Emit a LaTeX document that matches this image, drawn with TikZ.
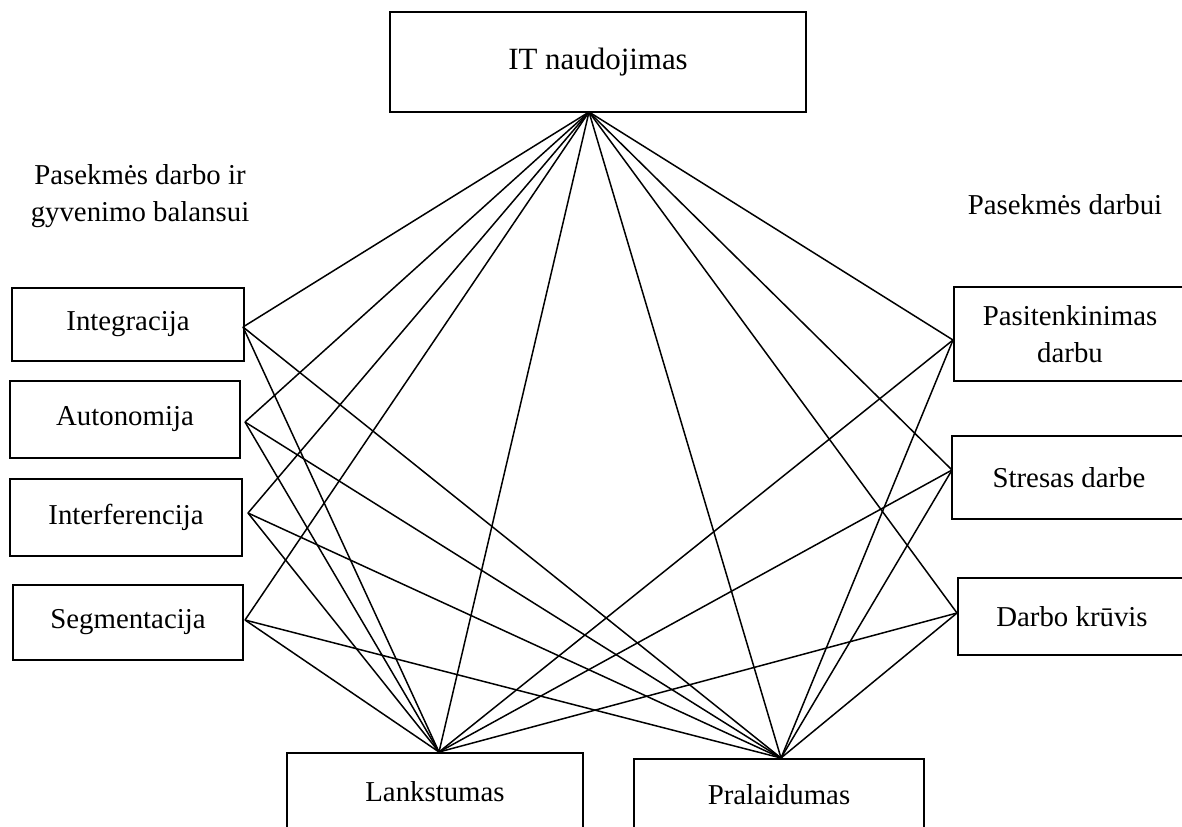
\documentclass[tikz,border=0pt]{standalone}
\usepackage{fontspec}
\setmainfont{Liberation Serif}
\begin{document}
\begin{tikzpicture}[x=0.02cm,y=-0.02cm,
  box/.style={draw=black,line width=1.1pt,rectangle,inner sep=0pt,align=center,
    font=\fontsize{16.4}{21}\selectfont},
  conn/.style={draw=black,line width=0.85pt},
  captext/.style={align=center,inner sep=0pt,font=\fontsize{16.4}{21}\selectfont}]
\useasboundingbox (0,0) rectangle (1182,827);
\clip (0,0) rectangle (1182,827);
\fill[white] (0,0) rectangle (1182,827);
% boxes
\node[box,minimum width=8.32cm,minimum height=2.0cm,font=\fontsize{17.6}{21}\selectfont] (it) at (598,62) {IT naudojimas};
\node[box,minimum width=4.64cm,minimum height=1.46cm] (integ) at (128,324.5) {Integracija};
\node[box,minimum width=4.6cm,minimum height=1.54cm] (auton) at (125,419.5) {Autonomija};
\node[box,minimum width=4.64cm,minimum height=1.54cm] (interf) at (126,517.5) {Interferencija};
\node[box,minimum width=4.6cm,minimum height=1.5cm] (segm) at (128,622.5) {Segmentacija};
\node[box,minimum width=4.64cm,minimum height=1.88cm] (pasit) at (1070,334) {Pasitenkinimas\\darbu};
\node[box,minimum width=4.68cm,minimum height=1.66cm] (stres) at (1069,477.5) {Stresas darbe};
\node[box,minimum width=4.56cm,minimum height=1.54cm] (kruv) at (1072,616.5) {Darbo krūvis};
\node[box,minimum width=5.92cm,minimum height=1.56cm] (lank) at (435,792) {Lankstumas};
\node[box,minimum width=5.8cm,minimum height=1.44cm] (pral) at (779,795) {Pralaidumas};
% captions
\node[captext] (capL) at (140,196) {Pasekmės darbo ir\\gyvenimo balansui};
\node[captext] (capR) at (1065,205) {Pasekmės darbui};
% hubs
\coordinate (hIT) at (589,112);
\coordinate (hLank) at (439,752);
\coordinate (hPral) at (781,758);
\coordinate (hInteg) at (243,327);
\coordinate (hAuton) at (245,422);
\coordinate (hInterf) at (248,513);
\coordinate (hSegm) at (245,620);
\coordinate (hPasit) at (953,340);
\coordinate (hStres) at (952,470);
\coordinate (hKruv) at (957,613);
% connectors from IT
\foreach \t in {hInteg,hAuton,hInterf,hSegm,hPasit,hStres,hKruv,hLank,hPral}
  \draw[conn] (hIT) -- (\t);
% connectors to Lankstumas and Pralaidumas
\foreach \s in {hInteg,hAuton,hInterf,hSegm,hPasit,hStres,hKruv}{
  \draw[conn] (\s) -- (hLank);
  \draw[conn] (\s) -- (hPral);
}
\end{tikzpicture}
\end{document}
